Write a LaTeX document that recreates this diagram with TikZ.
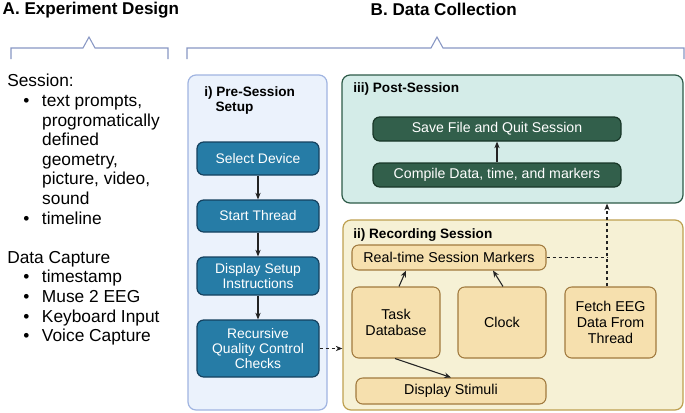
\documentclass[tikz,border=0pt]{standalone}
\usepackage{fontspec}
\setmainfont{Liberation Sans}
\usepackage{tikz}
\usetikzlibrary{calc,arrows.meta}

\definecolor{bracecol}{RGB}{135,150,195}
\definecolor{prefill}{RGB}{235,242,252}
\definecolor{preline}{RGB}{160,180,225}
\definecolor{postfill}{RGB}{212,236,232}
\definecolor{postline}{RGB}{45,90,72}
\definecolor{recfill}{RGB}{246,241,213}
\definecolor{recline}{RGB}{190,160,80}
\definecolor{tanfill}{RGB}{246,224,174}
\definecolor{tanline}{RGB}{160,122,62}
\definecolor{greenbox}{RGB}{50,95,75}
\definecolor{greenline}{RGB}{25,55,40}
\definecolor{bluebox}{RGB}{38,124,166}
\definecolor{blueline}{RGB}{20,65,95}
\definecolor{arrcol}{RGB}{35,35,35}

\tikzset{
  panel/.style={draw, line width=0.9pt, rounded corners=6pt, inner sep=0pt},
  bluestep/.style={draw=blueline, fill=bluebox, line width=0.9pt, rounded corners=5pt,
    text=white, align=center, font=\fontsize{10.4}{11.6}\selectfont, inner sep=0pt,
    minimum width=91.5pt},
  greenstep/.style={draw=greenline, fill=greenbox, line width=0.9pt, rounded corners=5pt,
    text=white, font=\fontsize{10.6}{11.6}\selectfont, inner sep=0pt,
    minimum width=186pt, minimum height=18pt},
  tanstep/.style={draw=tanline, fill=tanfill, line width=0.8pt, rounded corners=5pt,
    align=center, font=\fontsize{10.7}{12.2}\selectfont, inner sep=0pt},
  arr/.style={-{Stealth[length=5pt,width=4pt]}, line width=0.8pt, draw=arrcol},
  dasharr/.style={-{Stealth[length=5pt,width=4pt]}, line width=0.8pt, draw=arrcol, dash pattern=on 2.5pt off 2pt},
  dashline/.style={line width=0.8pt, draw=arrcol, dash pattern=on 2.5pt off 2pt},
  brace/.style={draw=bracecol, line width=0.8pt},
  heading/.style={font=\fontsize{12.8}{15}\selectfont\bfseries, anchor=west},
  paneltitle/.style={font=\fontsize{10.2}{11.8}\selectfont\bfseries, anchor=north west, align=left, inner sep=0pt},
  listtext/.style={font=\fontsize{13}{14.7}\selectfont, anchor=north west, align=left, inner sep=0pt}
}

\begin{document}
\begin{tikzpicture}[x=0.75pt,y=-0.75pt]

  \useasboundingbox (0,0) rectangle (685,412);

  % headings and braces
  \node[heading] (headA) at (-2,10) {A. Experiment Design};
  \node[heading] (headB) at (366,9) {B. Data Collection};

  \draw[brace] (11,59) -- (11,48) -- (83,48) -- (89,37) -- (95,48) -- (168,48) -- (168,59);
  \draw[brace] (187,59) -- (187,48) -- (431,48) -- (437,37) -- (443,48) -- (684,48) -- (684,59);

  % experiment design list
  \node[listtext] (design) at (7,74) {%
    Session:\\
    \hspace{12pt}\textbullet\hspace{9.5pt}text prompts,\\
    \hspace{26.2pt}progromatically\\
    \hspace{26.2pt}defined\\
    \hspace{26.2pt}geometry,\\
    \hspace{26.2pt}picture, video,\\
    \hspace{26.2pt}sound\\
    \hspace{12pt}\textbullet\hspace{9.5pt}timeline\\[14.7pt]
    Data Capture\\
    \hspace{12pt}\textbullet\hspace{9.5pt}timestamp\\
    \hspace{12pt}\textbullet\hspace{9.5pt}Muse 2 EEG\\
    \hspace{12pt}\textbullet\hspace{9.5pt}Keyboard Input\\
    \hspace{12pt}\textbullet\hspace{9.5pt}Voice Capture};

  % panels
  \node[panel, draw=preline, fill=prefill, minimum width=104.25pt, minimum height=251.25pt] (pre) at (257.5,242.5) {};
  \node[panel, draw=postline, fill=postfill, minimum width=255.75pt, minimum height=96pt] (post) at (512.5,139) {};
  \node[panel, draw=recline, fill=recfill, minimum width=255pt, minimum height=142.5pt] (rec) at (513,315) {};

  \node[paneltitle] (pretitle) at (204,86) {i) Pre-Session\\\hspace{8.5pt}Setup};
  \node[paneltitle] (posttitle) at (353,82) {iii) Post-Session};
  \node[paneltitle] (rectitle) at (353,228) {ii) Recording Session};

  % pre-session steps
  \node[bluestep, minimum height=24.75pt] (select) at (258,158.5) {Select Device};
  \node[bluestep, minimum height=24pt] (thread) at (258,216) {Start Thread};
  \node[bluestep, minimum height=28.5pt] (setup) at (258,276) {Display Setup\\Instructions};
  \node[bluestep, minimum height=42.75pt] (qc) at (258,348.5) {Recursive\\Quality Control\\Checks};

  \draw[arr] (select) -- (thread);
  \draw[arr] (thread) -- (setup);
  \draw[arr] (setup) -- (qc);

  % post-session steps
  \node[greenstep] (save) at (497,129) {Save File and Quit Session};
  \node[greenstep] (compile) at (497,175) {Compile Data, time, and markers};

  \draw[arr] (compile) -- (save);

  % recording session steps
  \node[tanstep, minimum width=145.5pt, minimum height=18.75pt] (markers) at (449,257.5) {Real-time Session Markers};
  \node[tanstep, minimum width=66pt, minimum height=53.25pt] (task) at (396,322.5) {Task\\Database};
  \node[tanstep, minimum width=66pt, minimum height=53.25pt] (clock) at (502,322.5) {Clock};
  \node[tanstep, minimum width=68.25pt, minimum height=53.25pt] (fetch) at (610.5,322.5) {Fetch EEG\\Data From\\Thread};
  \node[tanstep, minimum width=142.5pt, minimum height=19.5pt] (stimuli) at (451,391) {Display Stimuli};

  \draw[arr] ($(task.north)+(3,0)$) -- ($(markers.south)+(-43,0)$);
  \draw[arr] ($(clock.north)+(1,0)$) -- ($(markers.south)+(44,0)$);
  \draw[arr] ($(task.south)+(-1,0)$) -- (stimuli.north);

  \coordinate (fetchtop) at ($(fetch.north)+(-3.5,0)$);
  \draw[dashline] (markers.east) -- (markers.east -| fetchtop);
  \draw[dasharr] (fetchtop) -- (fetchtop |- post.south);
  \draw[dasharr] (qc.east) -- (qc.east -| rec.west);

\end{tikzpicture}
\end{document}
